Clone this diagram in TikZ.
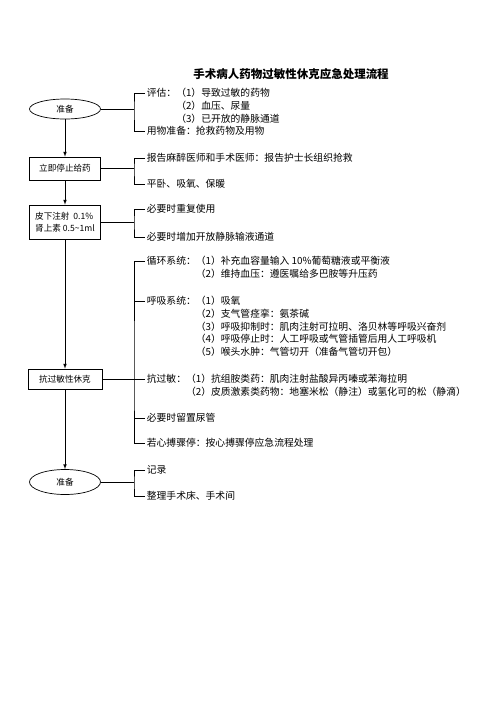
\documentclass[tikz,border=0pt]{standalone}
\usepackage{fontspec}
\setmainfont{Noto Sans CJK SC}
\usetikzlibrary{shapes.geometric}

\begin{document}
\begin{tikzpicture}[x=1pt,y=-1pt,>=latex,line width=0.7pt,
  txt/.style={anchor=west,inner sep=1.5pt,font=\fontsize{9.8}{11}\selectfont},
  stepbox/.style={draw,rectangle,minimum width=71pt,inner sep=2pt,font=\fontsize{8.6}{12}\selectfont},
  oval/.style={draw,ellipse,minimum width=71pt,inner sep=0pt,font=\fontsize{8.6}{10}\selectfont}]
\useasboundingbox (0,0) rectangle (496,702);

\node[font=\bfseries\fontsize{11.5}{13}\selectfont] (title) at (291,74) {手术病人药物过敏性休克应急处理流程};

% left column
\node[oval,minimum height=20pt] (e1) at (65,109) {准备};
\node[stepbox,minimum height=23pt] (b2) at (65,168.5) {立即停止给药};
\node[stepbox,minimum height=34pt,align=left] (b3) at (65,222) {皮下注射\ \ 0.1\%\\肾上素 0.5\textasciitilde1ml};
\node[stepbox,minimum width=74pt,minimum height=20pt] (b4) at (65,379) {抗过敏性休克};
\node[oval,minimum height=25pt] (e5) at (65,482) {准备};

\draw[->] (e1) -- (b2);
\draw[->] (b2) -- (b3);
\draw[->] (b3) -- (b4);
\draw[->] (b4) -- (e5);

% right column
\node[txt] (a1) at (145,93) {评估：（1）导致过敏的药物};
\node[txt] (a2) at (145,106) {\hphantom{评估：}（2）血压、尿量};
\node[txt] (a3) at (145,119) {\hphantom{评估：}（3）已开放的静脉通道};
\node[txt] (a4) at (145,131) {用物准备：抢救药物及用物};

\node[txt] (r1) at (145,158) {报告麻醉医师和手术医师：报告护士长组织抢救};
\node[txt] (r2) at (145,184) {平卧、吸氧、保暖};

\node[txt] (n1) at (145,209) {必要时重复使用};
\node[txt] (n2) at (145,237) {必要时增加开放静脉输液通道};

\node[txt] (c1) at (145,261) {循环系统：（1）补充血容量输入 10\%葡萄糖液或平衡液};
\node[txt] (c2) at (145,274) {\hphantom{循环系统：}（2）维持血压：遵医嘱给多巴胺等升压药};
\node[txt] (h1) at (145,301) {呼吸系统：（1）吸氧};
\node[txt] (h2) at (145,314) {\hphantom{呼吸系统：}（2）支气管痉挛：氨茶碱};
\node[txt] (h3) at (145,327) {\hphantom{呼吸系统：}（3）呼吸抑制时：肌肉注射可拉明、洛贝林等呼吸兴奋剂};
\node[txt] (h4) at (145,339) {\hphantom{呼吸系统：}（4）呼吸停止时：人工呼吸或气管插管后用人工呼吸机};
\node[txt] (h5) at (145,352) {\hphantom{呼吸系统：}（5）喉头水肿：气管切开（准备气管切开包）};
\node[txt] (k1) at (145,379) {抗过敏：（1）抗组胺类药：肌肉注射盐酸异丙嗪或苯海拉明};
\node[txt] (k2) at (145,392) {\hphantom{抗过敏：}（2）皮质激素类药物：地塞米松（静注）或氢化可的松（静滴）};
\node[txt] (u1) at (145,418) {必要时留置尿管};
\node[txt] (s1) at (145,443) {若心搏骤停：按心搏骤停应急流程处理};

\node[txt] (d1) at (145,470) {记录};
\node[txt] (d2) at (145,496) {整理手术床、手术间};

% brackets
\coordinate (j1) at (134,109);
\coordinate (j2) at (134,168.5);
\coordinate (j3) at (134,222);
\coordinate (j4) at (134,379);
\coordinate (j5) at (134,482);

\draw (e1) -- (j1);
\draw (a1.west) -| (j1) |- (a4.west);
\draw (b2) -- (j2);
\draw (r1.west) -| (j2) |- (r2.west);
\draw (b3) -- (j3);
\draw (n1.west) -| (j3) |- (n2.west);
\draw (b4) -- (j4);
\draw (c1.west) -| (j4) |- (s1.west);
\draw (h1.west) -- (h1.west -| j4);
\draw (k1.west) -- (j4);
\draw (u1.west) -- (u1.west -| j4);
\draw (e5) -- (j5);
\draw (d1.west) -| (j5) |- (d2.west);
\end{tikzpicture}
\end{document}
